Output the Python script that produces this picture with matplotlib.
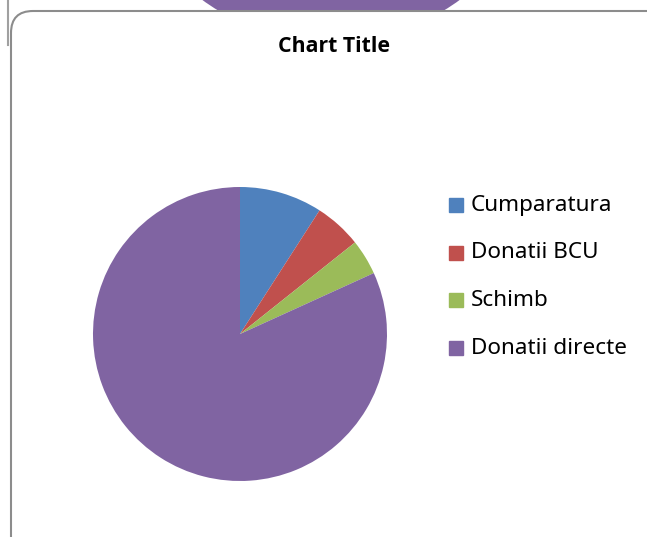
import matplotlib
matplotlib.use("Agg")
from matplotlib import pyplot as plt
from matplotlib.patches import FancyBboxPatch, Ellipse, Rectangle

labels = ['Cumparatura', 'Donatii BCU', 'Schimb', 'Donatii directe']
values = [9.1, 5.2, 3.9, 81.8]
colors = ['#4F81BD', '#C0504D', '#9BBB59', '#8064A2']

W, H = 647, 537
plt.rcParams['font.family'] = ['Noto Sans', 'DejaVu Sans']
fig = plt.figure(figsize=(W / 100, H / 100), dpi=100)

# background: piece of another chart behind this one
bg = fig.add_axes([0, 0, 1, 1])
bg.set_xlim(0, W)
bg.set_ylim(H, 0)
bg.axis('off')
bg.add_patch(Ellipse((331, -176), 436, 436, fc='#8064A2', ec='none', zorder=1))
bg.plot([8, 8], [0, 45], color='#A0A0A0', lw=1.5, zorder=1)

# chart frame
frame = FancyBboxPatch((11, 11), 660, 560, boxstyle='round,pad=0,rounding_size=22',
                       fc='white', ec='#8C8C8C', lw=1.5, zorder=2)
bg.add_patch(frame)
bg.text(334, 47, 'Chart Title', ha='center', va='center', fontsize=15.3,
        fontweight='bold', family=['Open Sans', 'DejaVu Sans'], zorder=3)

# pie
cx, cy, r = 240, 334, 147
ax = fig.add_axes([(cx - r) / W, 1 - (cy + r) / H, 2 * r / W, 2 * r / H])
ax.pie(values, colors=colors, startangle=90, counterclock=False,
       wedgeprops=dict(linewidth=0))
ax.set_xlim(-1, 1)
ax.set_ylim(-1, 1)
ax.set_aspect('equal')

# legend
for i, (lab, col) in enumerate(zip(labels, colors)):
    y = 205 + i * 47.7
    bg.add_patch(Rectangle((449, y - 7), 14, 14, color=col, zorder=3))
    bg.text(471, y, lab, ha='left', va='center', fontsize=16.2, zorder=3)

fig.savefig('out.png', dpi=100)
